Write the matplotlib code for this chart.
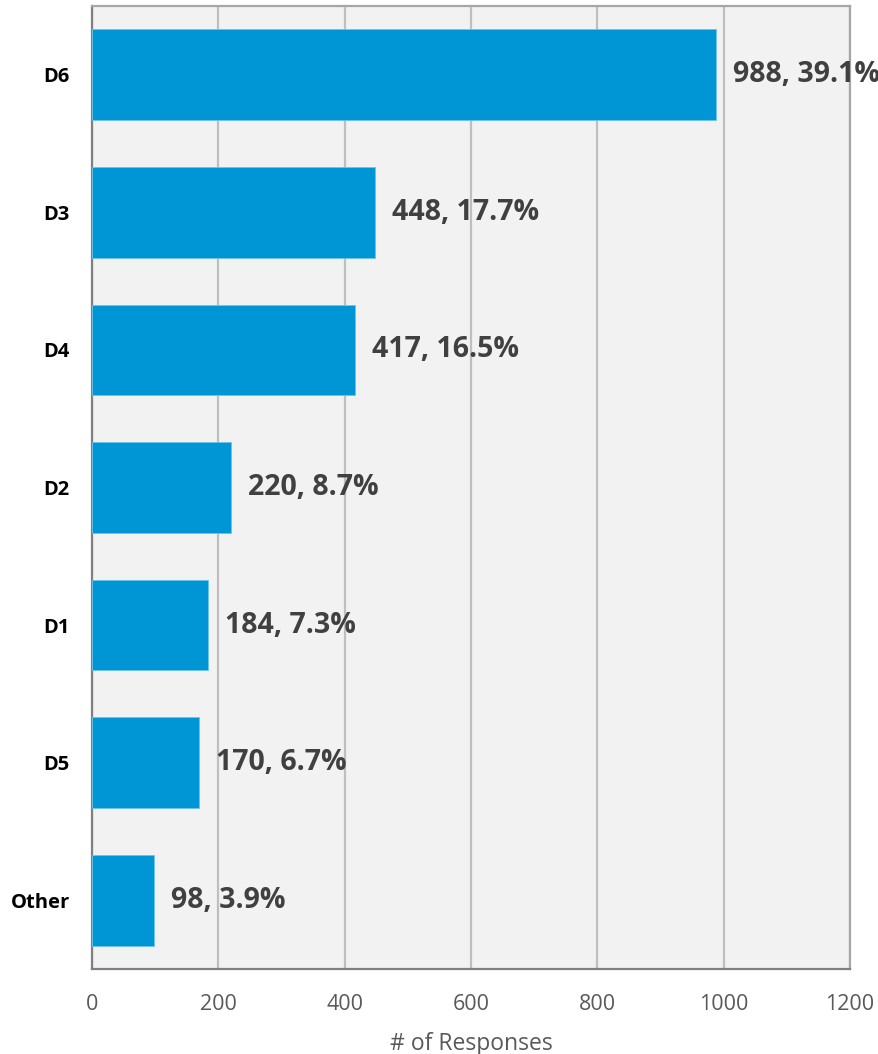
import matplotlib
matplotlib.use('Agg')
import matplotlib.pyplot as plt
import numpy as np

# responses per category
categories = ['Other', 'D5', 'D1', 'D2', 'D4', 'D3', 'D6']
counts = [98, 170, 184, 220, 417, 448, 988]
shares = [3.9, 6.7, 7.3, 8.7, 16.5, 17.7, 39.1]

plt.rcParams['font.family'] = ['Open Sans', 'DejaVu Sans']

fig = plt.figure(figsize=(8.79, 10.54), dpi=100)
ax = fig.add_axes([92/879, 85/1054, 758/879, 963/1054])
ax.set_facecolor('#f2f2f2')

y = np.arange(len(categories))
ax.barh(y, counts, height=0.66, color='#0096d6', edgecolor='#6cc4ec', linewidth=0.6, zorder=3)

# value and share next to each bar
for yi, c, s in zip(y, counts, shares):
    ax.annotate(f'{c}, {s}%', (c, yi), xytext=(12, 0), textcoords='offset points',
                va='center', ha='left', fontsize=20.5, fontweight='bold', color='#404040',
                zorder=5, annotation_clip=False)

ax.set_xlim(0, 1200)
ax.set_ylim(-0.5, 6.5)
ax.set_xticks(np.arange(0, 1201, 200))
ax.set_yticks(y)
ax.set_yticklabels(categories, fontsize=14.5, fontweight='bold', color='black')
ax.tick_params(axis='x', labelsize=15.5, labelcolor='#595959', length=0, pad=18)
ax.tick_params(axis='y', length=0, pad=16)
ax.xaxis.grid(True, color='#bfbfbf', linewidth=1.6, zorder=1)
ax.set_axisbelow(True)

for side in ['left', 'bottom']:
    ax.spines[side].set_color('#808080')
    ax.spines[side].set_linewidth(1.6)
for side in ['top', 'right']:
    ax.spines[side].set_color('#a6a6a6')
    ax.spines[side].set_linewidth(1.6)

ax.set_xlabel('# of Responses', fontsize=16.5, color='#595959', labelpad=12)

fig.savefig('out.png', dpi=100)
